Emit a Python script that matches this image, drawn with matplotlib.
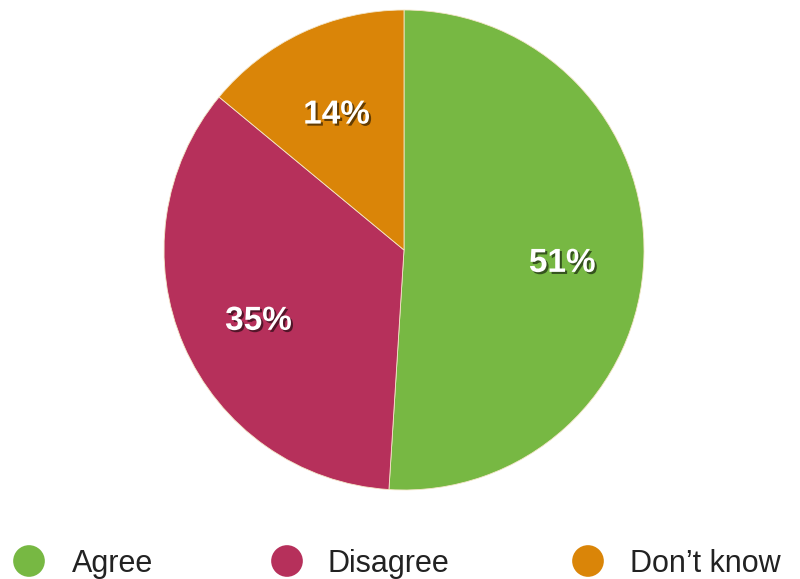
import matplotlib
matplotlib.use("Agg")
import matplotlib.pyplot as plt
import matplotlib.patheffects as pe

# survey answers
labels = ["Agree", "Disagree", "Don\u2019t know"]
shares = [51, 35, 14]
colors = ["#77b843", "#b6305b", "#da8508"]

plt.rcParams["font.family"] = ["Liberation Sans", "DejaVu Sans"]

W, H = 800, 579
fig = plt.figure(figsize=(W / 100, H / 100), dpi=100)

# pie centred at (404, 250) px with a 240 px radius
cx, cy, r = 404, 250, 240
ax = fig.add_axes([(cx - r) / W, (H - cy - r) / H, 2 * r / W, 2 * r / H])
wedges, _, autotexts = ax.pie(
    shares, colors=colors, startangle=90, counterclock=False,
    autopct="%d%%", pctdistance=0.66,
    wedgeprops=dict(linewidth=0.6, edgecolor="#f4e6c8"),
    textprops=dict(color="white", fontsize=24, fontweight="bold"))
for t in autotexts:
    x, y = t.get_position()
    t.set_position((x, y - 0.035))
    t.set_path_effects([pe.withSimplePatchShadow(offset=(1.5, -1.5), shadow_rgbFace="black", alpha=0.55)])
ax.set_xlim(-1, 1)
ax.set_ylim(-1, 1)
ax.set_aspect("auto")
ax.axis("off")

# legend row along the bottom, in pixel coordinates
leg = fig.add_axes([0, 0, 1, 1])
leg.set_xlim(0, W)
leg.set_ylim(H, 0)
leg.axis("off")
dot_x = [29, 287, 588]
text_x = [72, 327, 630]
for lab, col, dx, tx in zip(labels, colors, dot_x, text_x):
    leg.scatter([dx], [561], s=520, color=col, edgecolors="none")
    leg.text(tx, 572, lab, fontsize=22, color="#222222", va="baseline", ha="left")

fig.savefig("out.png", dpi=100, facecolor="white")
